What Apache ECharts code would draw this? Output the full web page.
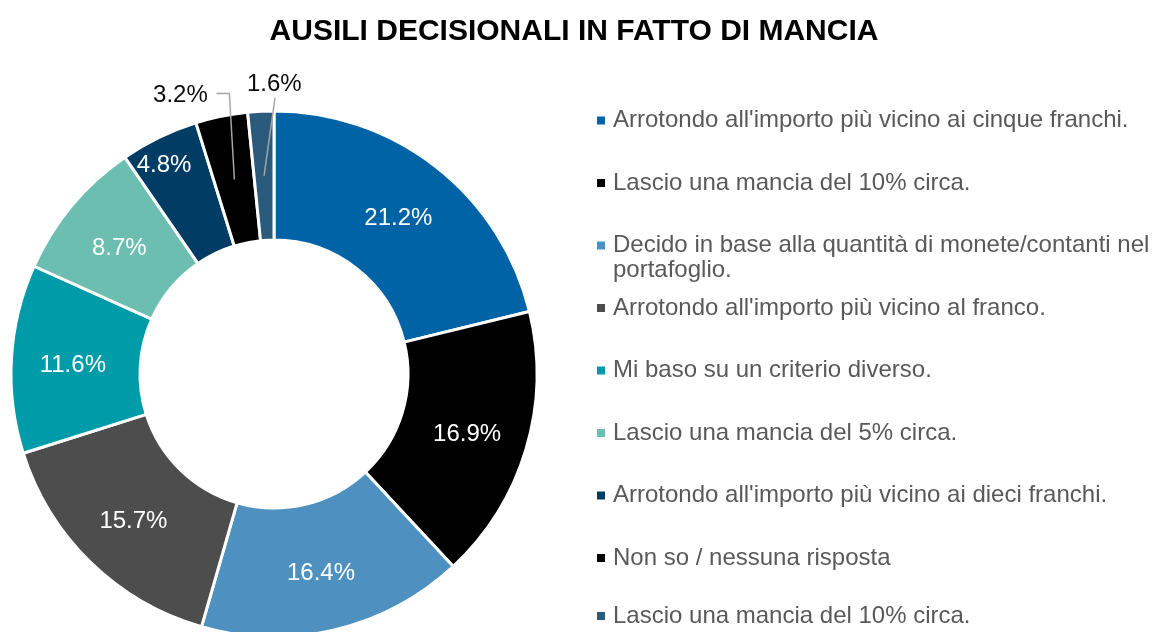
<!DOCTYPE html>
<html>
<head>
<meta charset="utf-8">
<script src="https://cdn.jsdelivr.net/npm/echarts@6/dist/echarts.min.js"></script>
<style>
  html, body { margin: 0; padding: 0; background: #fff; }
  #main { width: 1152px; height: 632px; }
</style>
</head>
<body>
<div id="main"></div>
<script>
// categorie e valori (%)
var categories = [
    "Arrotondo all'importo più vicino ai cinque franchi.",
    "Lascio una mancia del 10% circa.",
    "Decido in base alla quantità di monete/contanti nel portafoglio.",
    "Arrotondo all'importo più vicino al franco.",
    "Mi baso su un criterio diverso.",
    "Lascio una mancia del 5% circa.",
    "Arrotondo all'importo più vicino ai dieci franchi.",
    "Non so / nessuna risposta",
    "Lascio una mancia del 10% circa.\u200b"
]
var values = [21.2, 16.9, 16.4, 15.7, 11.6, 8.7, 4.8, 3.2, 1.6]
var colors = ['#0063a6', '#000000', '#4e91c0', '#4d4d4d', '#009ba8', '#6cbfb0', '#003c64', '#000000', '#2a5a7c']

var font = '"Liberation Sans", Arial, sans-serif'
var cx = 274, cy = 374, rIn = 134, rOut = 263
var rMid = (rIn + rOut) / 2
var total = values.reduce(function (a, b) { return a + b }, 0)

var myChart = echarts.init(document.getElementById('main'))

// punto a metà dell'anello per la fetta i
function midPoint(i) {
    var before = 0
    for (var k = 0; k < i; k++) before += values[k]
    var a = (before + values[i] / 2) / total * Math.PI * 2
    return [cx + rMid * Math.sin(a), cy - rMid * Math.cos(a)]
}

function pct(p) { return p.value.toFixed(1) + '%' }

// fette colorate, etichette interne
var pieData = categories.map(function (name, i) {
    var item = { name: name, value: values[i], itemStyle: { color: colors[i] } }
    if (values[i] < 4) item.label = { show: false }
    return item
})

// stesso anello, trasparente e sopra: porta le etichette esterne con le linee guida
var overlayData = values.map(function (v, i) {
    var item = { name: 'ext' + i, value: v }
    if (v < 4) {
        item.label = { show: true }
        item.labelLine = { show: true, length: 24, length2: 8 }
    }
    return item
})

// una legenda per voce, spaziatura fissa come in Excel
var legends = categories.map(function (name, i) {
    var wrap = name.indexOf(' nel portafoglio') !== -1
    var y = Math.min(120.5 + 62.5 * i, 616)
    return {
        data: [name],
        left: 597,
        top: wrap ? y - 37.5 : y - 12.5,
        padding: 0,
        itemWidth: 8,
        itemHeight: 8,
        icon: 'rect',
        itemStyle: { borderWidth: 0 },
        selectedMode: false,
        formatter: function (n) {
            // riga vuota in testa: il quadratino resta allineato alla prima riga
            return n.indexOf(' nel portafoglio') !== -1
                ? '\n' + n.replace(' nel portafoglio', ' nel\nportafoglio') : n
        },
        textStyle: {
            fontFamily: font,
            fontSize: 24,
            color: '#595959',
            lineHeight: 25,
            padding: [0, 0, 0, 3]
        }
    }
})

option = {
    backgroundColor: '#fff',
    animation: false,
    title: {
        text: 'AUSILI DECISIONALI IN FATTO DI MANCIA',
        left: 569,
        textAlign: 'center',
        top: 12,
        textStyle: { fontFamily: font, fontSize: 30, fontWeight: 'bold', color: '#000' }
    },
    legend: legends,
    series: [{
        type: 'pie',
        center: [cx, cy],
        radius: [rIn, rOut],
        startAngle: 90,
        clockwise: true,
        avoidLabelOverlap: false,
        itemStyle: { borderColor: '#fff', borderWidth: 3 },
        label: {
            show: true,
            position: 'inside',
            fontFamily: font,
            fontSize: 24,
            color: '#fff',
            formatter: pct
        },
        labelLayout: function (p) {
            // Excel spinge l'etichetta del 4.8% verso l'esterno
            if (p.dataIndex === 6) return { dx: -22, dy: -27 }
            return { dy: 3 }
        },
        data: pieData
    }, {
        type: 'pie',
        z: 3,
        silent: true,
        center: [cx, cy],
        radius: [rIn, rOut],
        startAngle: 90,
        clockwise: true,
        avoidLabelOverlap: false,
        itemStyle: { color: 'rgba(0,0,0,0)', borderWidth: 0 },
        label: {
            show: false,
            position: 'outside',
            fontFamily: font,
            fontSize: 24,
            color: '#0d0d0d',
            formatter: pct
        },
        labelLine: { show: false, lineStyle: { color: '#a6a6a6', width: 1.5 } },
        labelLayout: function (p) {
            var i = p.dataIndex
            if (i < 7) return {}
            var m = midPoint(i)
            if (i === 7) {
                return {
                    dx: 4, dy: 3,
                    hideOverlap: false,
                    labelLinePoints: [[m[0], m[1]], [m[0] - 5, m[1] - 86], [m[0] - 18, m[1] - 86]]
                }
            }
            return {
                dx: 55, dy: -3,
                hideOverlap: false,
                labelLinePoints: [[m[0], m[1]], [m[0] + 11, m[1] - 78], [m[0] + 11, m[1] - 78]]
            }
        },
        data: overlayData
    }]
}

myChart.setOption(option)
</script>
</body>
</html>
